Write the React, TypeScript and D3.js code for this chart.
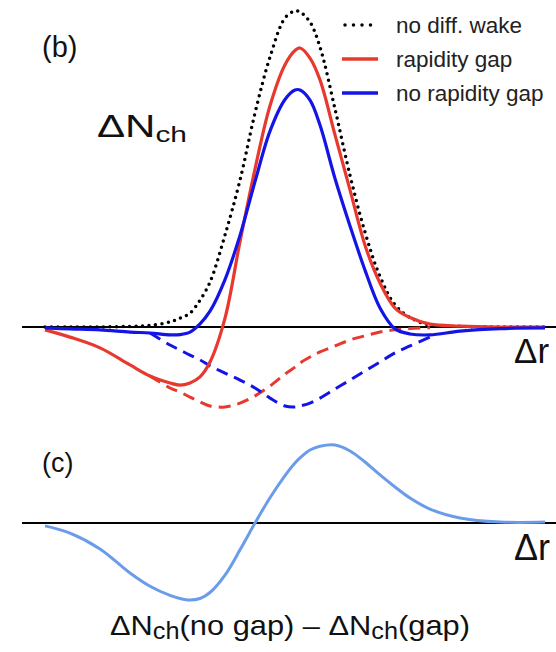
import React from "react";
import * as d3 from "d3";

// Δr sample positions (arbitrary units)
const dr = [0, 0.1, 0.22, 0.34, 0.42, 0.5, 0.54, 0.58, 0.62, 0.66, 0.72, 0.78, 0.84, 0.9, 0.96, 1.0, 1.02, 1.06, 1.1, 1.16, 1.22, 1.28, 1.34, 1.4, 1.46, 1.54, 1.66, 1.82, 2.0];

// panel (b)
const noDiffWake = [0, 0, 0, 0.002, 0.005, 0.016, 0.028, 0.044, 0.085, 0.142, 0.291, 0.465, 0.677, 0.854, 0.978, 1.0, 0.997, 0.965, 0.886, 0.69, 0.48, 0.3, 0.16, 0.07, 0.03, 0.006, 0.002, 0, 0];
const rapidityGap = [-0.009, -0.032, -0.066, -0.12, -0.155, -0.177, -0.184, -0.177, -0.158, -0.111, 0.028, 0.27, 0.5, 0.7, 0.83, 0.875, 0.883, 0.851, 0.782, 0.608, 0.434, 0.259, 0.139, 0.06, 0.03, 0.009, 0.003, 0, 0];
const noRapidityGap = [-0.003, -0.006, -0.009, -0.016, -0.019, -0.025, -0.024, -0.016, 0.01, 0.05, 0.15, 0.29, 0.46, 0.62, 0.72, 0.75, 0.75, 0.718, 0.639, 0.47, 0.32, 0.18, 0.06, -0.006, -0.022, -0.025, -0.013, -0.005, -0.003];
const wakeGap: (number | null)[] = [null, null, null, null, -0.155, -0.193, -0.206, -0.222, -0.237, -0.25, -0.253, -0.241, -0.218, -0.187, -0.149, -0.127, -0.114, -0.095, -0.079, -0.06, -0.041, -0.028, -0.016, -0.009, -0.005, -0.002, null, null, null];
const wakeNoGap: (number | null)[] = [null, null, null, null, -0.019, -0.057, -0.073, -0.089, -0.104, -0.123, -0.146, -0.168, -0.193, -0.225, -0.25, -0.253, -0.25, -0.241, -0.225, -0.196, -0.168, -0.139, -0.111, -0.082, -0.06, -0.032, null, null, null];

// panel (c)
const difference = [-0.009, -0.032, -0.082, -0.158, -0.2, -0.229, -0.239, -0.244, -0.239, -0.22, -0.165, -0.085, 0, 0.08, 0.15, 0.19, 0.206, 0.231, 0.243, 0.247, 0.228, 0.193, 0.152, 0.114, 0.079, 0.044, 0.016, 0.003, 0.003];

const legendLabels = ["no diff. wake", "rapidity gap", "no rapidity gap"];

const RED = "#e8392f";
const BLUE = "#1414e6";
const LIGHTBLUE = "#6b9ce9";
const FONT = "'Liberation Sans', Arial, Helvetica, sans-serif";

export default function App() {
  const W = 556, H = 652;
  const x = d3.scaleLinear().domain([0, 2]).range([45, 545]);
  const yB = d3.scaleLinear().domain([0, 1]).range([327, 11]);
  const yC = d3.scaleLinear().domain([0, 1]).range([523, 207]);

  const mk = (y: d3.ScaleLinear<number, number>, vals: (number | null)[]) =>
    d3.line<number>()
      .defined((_, i) => vals[i] != null)
      .x((d) => x(d))
      .y((_, i) => y(vals[i] as number))
      .curve(d3.curveCatmullRom.alpha(0.5))(dr) || "";

  return (
    <svg width={W} height={H} style={{ position: "absolute", left: 0, top: 0, background: "#fff" }} fontFamily={FONT}>
      <rect width={W} height={H} fill="#fff" />
      {/* baselines */}
      <line x1={22} x2={W} y1={yB(0)} y2={yB(0)} stroke="#000" strokeWidth={2} />
      <line x1={22} x2={W} y1={yC(0)} y2={yC(0)} stroke="#000" strokeWidth={2} />

      {/* panel b curves */}
      <path d={mk(yB, wakeGap)} fill="none" stroke={RED} strokeWidth={3} strokeDasharray="12,7" />
      <path d={mk(yB, wakeNoGap)} fill="none" stroke={BLUE} strokeWidth={3} strokeDasharray="12,7" />
      <path d={mk(yB, noDiffWake)} fill="none" stroke="#000" strokeWidth={3.5} strokeDasharray="0,6.5" strokeLinecap="round" />
      <path d={mk(yB, rapidityGap)} fill="none" stroke={RED} strokeWidth={3.2} />
      <path d={mk(yB, noRapidityGap)} fill="none" stroke={BLUE} strokeWidth={3.2} />

      {/* panel c curve */}
      <path d={mk(yC, difference)} fill="none" stroke={LIGHTBLUE} strokeWidth={3} />

      {/* legend */}
      {legendLabels.map((lab, i) => {
        const yy = 25 + i * 34;
        const color = i === 0 ? "#000" : i === 1 ? RED : BLUE;
        return (
          <g key={lab}>
            {i === 0 ? (
              <line x1={345} x2={372} y1={yy} y2={yy} stroke="#000" strokeWidth={3.5} strokeDasharray="0,8.5" strokeLinecap="round" />
            ) : (
              <line x1={342} x2={378} y1={yy} y2={yy} stroke={color} strokeWidth={3.5} />
            )}
            <text x={396} y={yy + 8} fontSize={22.5} fill="#222">{lab}</text>
          </g>
        );
      })}

      {/* labels */}
      <text x={42} y={57} fontSize={29} fill="#111">(b)</text>
      <text x={42} y={472} fontSize={27} fill="#111">(c)</text>
      <text x={97} y={137} fontSize={31} fill="#111" textLength={90} lengthAdjust="spacingAndGlyphs">
        ΔN<tspan fontSize={22} dy={5}>ch</tspan>
      </text>
      <text x={514} y={363} fontSize={35} fill="#111">Δr</text>
      <text x={514} y={560} fontSize={36} fill="#111">Δr</text>
      <text x={110} y={635} fontSize={28} fill="#111" textLength={360} lengthAdjust="spacingAndGlyphs">
        ΔN<tspan fontSize={23} dy={4}>ch</tspan><tspan dy={-4}>(no gap) – ΔN</tspan><tspan fontSize={23} dy={4}>ch</tspan><tspan dy={-4}>(gap)</tspan>
      </text>
    </svg>
  );
}
